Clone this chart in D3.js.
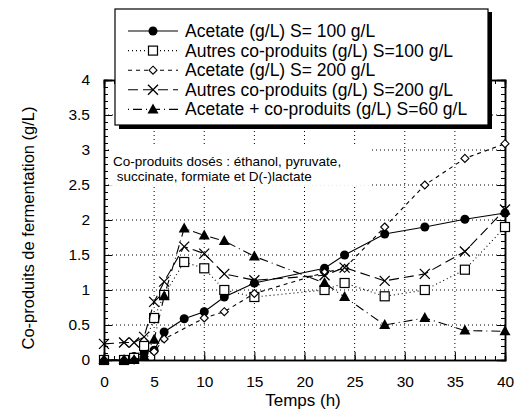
<!DOCTYPE html>
<html>
<head>
  <meta charset="utf-8">
  <title>Co-produits de fermentation</title>
  <style>
    body { margin: 0; background: white; }
    svg { font-family: "Liberation Sans", Arial, sans-serif; }
    .grid line { stroke: black; stroke-width: 1; stroke-dasharray: 1,3; }
    .axis path, .axis line { stroke: black; }
    .axis text { font-size: 15.5px; fill: black; }
  </style>
  <script src="https://d3js.org/d3.v7.min.js"></script>
</head>
<body>
  <svg id="chart" width="516" height="410"></svg>

  <script>
    // values (temps en heures, g/L)
    const tAcetate100 = [0, 2, 3, 4, 5, 6, 8, 10, 12, 15, 22, 24, 28, 32, 36, 40];
    const acetate100  = [0, 0, 0.05, 0.1, 0.14, 0.4, 0.59, 0.69, 0.9, 1.1, 1.31, 1.5, 1.8, 1.9, 2.01, 2.1];

    const tAutres100 = [0, 2, 3, 4, 5, 6, 8, 10, 12, 15, 22, 24, 28, 32, 36, 40];
    const autres100  = [0, 0, 0.03, 0.2, 0.6, 0.93, 1.4, 1.31, 1.0, 0.9, 1.0, 1.1, 0.91, 1.0, 1.29, 1.9];

    const tAcetate200 = [0, 2, 3, 4, 5, 6, 10, 12, 15, 22, 24, 28, 32, 36, 40];
    const acetate200  = [0, 0, 0, 0.05, 0.12, 0.3, 0.6, 0.69, 0.95, 1.25, 1.31, 1.9, 2.5, 2.88, 3.09];

    const tAutres200 = [0, 2, 3, 4, 5, 6, 8, 10, 12, 15, 22, 24, 28, 32, 36, 40];
    const autres200  = [0.23, 0.25, 0.25, 0.33, 0.83, 1.12, 1.62, 1.52, 1.23, 1.14, 1.21, 1.32, 1.13, 1.23, 1.55, 2.15];

    const tTotal60 = [0, 2, 3, 4, 5, 6, 8, 10, 12, 15, 22, 24, 28, 32, 36, 40];
    const total60  = [0, 0, 0, 0.05, 0.29, 0.91, 1.88, 1.78, 1.7, 1.48, 1.1, 0.9, 0.5, 0.6, 0.42, 0.41];

    const xTicks = [0, 5, 10, 15, 20, 25, 30, 35, 40];
    const yTicks = [0, 0.5, 1, 1.5, 2, 2.5, 3, 3.5, 4];

    const seriesNames = [
      'Acetate (g/L) S= 100 g/L',
      'Autres co-produits (g/L) S=100 g/L',
      'Acetate (g/L) S= 200 g/L',
      'Autres co-produits (g/L) S=200 g/L',
      'Acetate + co-produits (g/L) S=60 g/L'
    ];
    const noteLines = [
      'Co-produits dosés : éthanol, pyruvate,',
      ' succinate, formiate et D(-)lactate'
    ];

    const series = [
      { name: seriesNames[0], t: tAcetate100, v: acetate100, dash: null,        marker: 'circle' },
      { name: seriesNames[1], t: tAutres100,  v: autres100,  dash: '1,3',       marker: 'square' },
      { name: seriesNames[2], t: tAcetate200, v: acetate200, dash: '4,4',       marker: 'diamond' },
      { name: seriesNames[3], t: tAutres200,  v: autres200,  dash: '10,5',      marker: 'cross' },
      { name: seriesNames[4], t: tTotal60,    v: total60,    dash: '1,4,9,4',   marker: 'triangle' }
    ];

    const svg = d3.select('#chart');
    const x = d3.scaleLinear().domain([0, 40]).range([104, 505]);
    const y = d3.scaleLinear().domain([0, 4]).range([360, 80]);

    // grid
    const grid = svg.append('g').attr('class', 'grid');
    grid.selectAll('.gx').data(xTicks.slice(1, -1)).enter().append('line')
      .attr('x1', d => x(d)).attr('x2', d => x(d))
      .attr('y1', y(0)).attr('y2', y(4));
    grid.selectAll('.gy').data(yTicks.slice(1, -1)).enter().append('line')
      .attr('x1', x(0)).attr('x2', x(40))
      .attr('y1', d => y(d)).attr('y2', d => y(d));

    // axes, ticks pointing inward on all four sides
    function addAxis(axisFn, scale, transform, major, minor, labels, pad) {
      svg.append('g').attr('class', 'axis').attr('transform', transform)
        .call(axisFn(scale).tickValues(minor).tickSize(-4).tickFormat(''));
      svg.append('g').attr('class', 'axis').attr('transform', transform)
        .call(axisFn(scale).tickValues(major).tickSize(-8).tickPadding(pad)
          .tickFormat(labels ? d3.format('') : ''));
    }
    const xMinor = d3.range(0, 41, 1);
    const yMinor = d3.range(0, 41, 1).map(d => d / 10);
    addAxis(d3.axisBottom, x, `translate(0,${y(0)})`, xTicks, xMinor, true, 16);
    addAxis(d3.axisTop, x, `translate(0,${y(4)})`, xTicks, xMinor, false, 3);
    addAxis(d3.axisLeft, y, `translate(${x(0)},0)`, yTicks, yMinor, true, 14);
    addAxis(d3.axisRight, y, `translate(${x(40)},0)`, yTicks, yMinor, false, 3);
    svg.selectAll('.axis .domain').attr('stroke-width', 1.5);

    // note with a white backing
    const note = svg.append('g');
    note.append('rect').attr('x', x(0) + 5).attr('y', y(3.06)).attr('width', 262).attr('height', 40).attr('fill', 'white');
    note.selectAll('text').data(noteLines).enter().append('text')
      .attr('x', x(0) + 9).attr('y', (d, i) => 166 + i * 15)
      .attr('font-size', 13.5).attr('xml:space', 'preserve')
      .text(d => d);

    function drawMarker(g, type, cx, cy) {
      if (type === 'circle') {
        g.append('circle').attr('cx', cx).attr('cy', cy).attr('r', 4.5).attr('fill', 'black');
      } else if (type === 'square') {
        g.append('rect').attr('x', cx - 4.5).attr('y', cy - 4.5).attr('width', 9).attr('height', 9)
          .attr('fill', 'white').attr('stroke', 'black').attr('stroke-width', 1.2);
      } else if (type === 'diamond') {
        g.append('path').attr('d', `M${cx},${cy - 4}L${cx + 4},${cy}L${cx},${cy + 4}L${cx - 4},${cy}Z`)
          .attr('fill', 'white').attr('stroke', 'black').attr('stroke-width', 1.1);
      } else if (type === 'cross') {
        g.append('path').attr('d', `M${cx - 5},${cy - 5}L${cx + 5},${cy + 5}M${cx - 5},${cy + 5}L${cx + 5},${cy - 5}`)
          .attr('stroke', 'black').attr('stroke-width', 1.3);
      } else {
        g.append('path').attr('d', `M${cx},${cy - 6}L${cx + 5.5},${cy + 4}L${cx - 5.5},${cy + 4}Z`)
          .attr('fill', 'black');
      }
    }

    // series
    const line = d3.line().x(d => x(d[0])).y(d => y(d[1]));
    series.forEach(s => {
      const pts = s.t.map((t, i) => [t, s.v[i]]);
      svg.append('path').datum(pts).attr('d', line)
        .attr('fill', 'none').attr('stroke', 'black').attr('stroke-width', 1.1)
        .attr('stroke-dasharray', s.dash);
      const g = svg.append('g');
      pts.forEach(p => drawMarker(g, s.marker, x(p[0]), y(p[1])));
    });

    // legend box with shadow
    const legend = svg.append('g');
    legend.append('rect').attr('x', 119).attr('y', 12).attr('width', 373).attr('height', 117).attr('fill', 'black');
    legend.append('rect').attr('x', 115).attr('y', 9).attr('width', 373).attr('height', 116)
      .attr('fill', 'white').attr('stroke', 'black').attr('stroke-width', 1.2);
    series.forEach((s, i) => {
      const ly = 31 + i * 19.6;
      legend.append('line').attr('x1', 128).attr('x2', 178).attr('y1', ly).attr('y2', ly)
        .attr('stroke', 'black').attr('stroke-width', 1.1).attr('stroke-dasharray', s.dash);
      drawMarker(legend, s.marker, 153, ly);
      legend.append('text').attr('x', 185).attr('y', ly + 6).attr('font-size', 17.5).text(s.name);
    });

    // axis titles
    svg.append('text').attr('x', 303).attr('y', 406).attr('text-anchor', 'middle')
      .attr('font-size', 17).text('Temps (h)');
    svg.append('text').attr('transform', 'translate(34,228) rotate(-90)').attr('text-anchor', 'middle')
      .attr('font-size', 16.5).text('Co-produits de fermentation (g/L)');
  </script>
</body>
</html>
